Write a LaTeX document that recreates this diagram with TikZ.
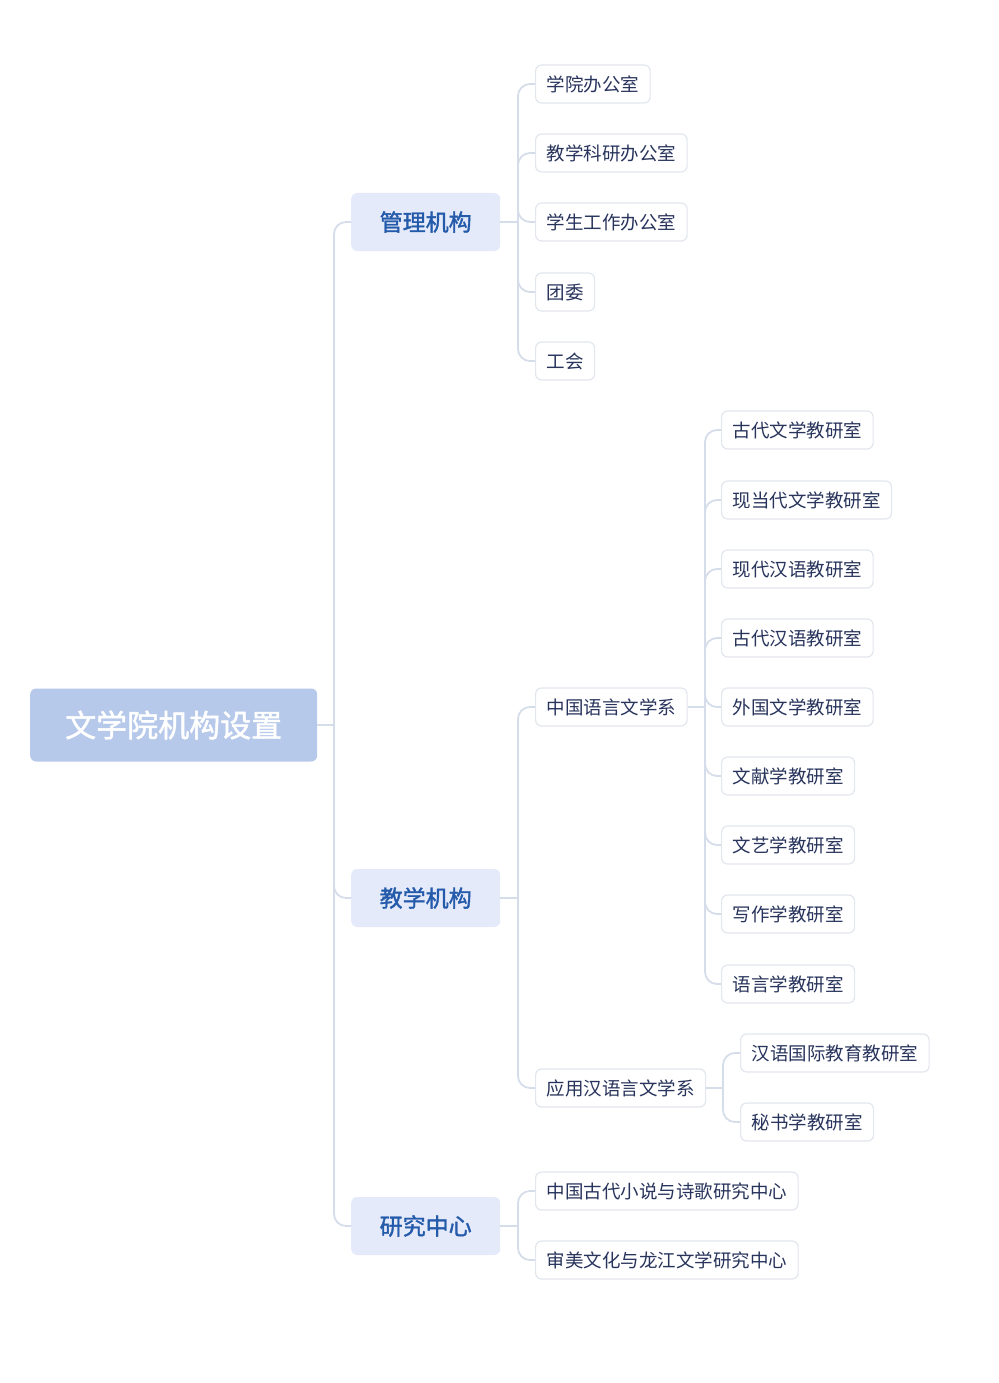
\documentclass[tikz,border=0pt]{standalone}
\usepackage{fontspec}
\setmainfont{Noto Sans CJK SC}
\newfontfamily\medfont{Noto Sans CJK SC}[FakeBold=1.5]
\definecolor{rootfill}{RGB}{182,201,234}
\definecolor{lvfill}{RGB}{228,234,250}
\definecolor{lvtext}{RGB}{36,90,170}
\definecolor{leafline}{RGB}{226,230,238}
\definecolor{leaftext}{RGB}{40,52,92}
\definecolor{conncol}{RGB}{214,221,234}
\tikzset{
  rootbox/.style={draw=none, fill=rootfill, rounded corners=6pt, text=white, font=\medfont\fontsize{31}{34}\selectfont, minimum height=73pt, minimum width=287pt, anchor=west, inner sep=0pt},
  lvbox/.style={draw=none, fill=lvfill, rounded corners=6pt, text=lvtext, font=\medfont\fontsize{23}{26}\selectfont, minimum height=58pt, minimum width=149pt, anchor=west, inner sep=0pt},
  leafbox/.style={draw=leafline, line width=1.2pt, fill=white, rounded corners=6pt, text=leaftext, font=\fontsize{18.5}{20}\selectfont, minimum height=38pt, inner xsep=11pt, anchor=west},
  conn/.style={draw=conncol, line width=1.8pt, rounded corners=12pt}
}
\begin{document}
\begin{tikzpicture}[x=1pt,y=-1pt]
\useasboundingbox (0,0) rectangle (998,1383);
% root and level 1
\node[rootbox] (root) at (30,725) {文学院机构设置};
\node[lvbox] (g) at (351,222) {管理机构};
\node[lvbox] (t) at (351,898) {教学机构};
\node[lvbox] (r) at (351,1226) {研究中心};
% leaves of 管理机构
\node[leafbox] (g1) at (535,84) {学院办公室};
\node[leafbox] (g2) at (535,153) {教学科研办公室};
\node[leafbox] (g3) at (535,222) {学生工作办公室};
\node[leafbox] (g4) at (535,292) {团委};
\node[leafbox] (g5) at (535,361) {工会};
% 教学机构 children
\node[leafbox] (z) at (535,707) {中国语言文学系};
\node[leafbox] (y) at (535,1088) {应用汉语言文学系};
\node[leafbox] (z1) at (721,430) {古代文学教研室};
\node[leafbox] (z2) at (721,500) {现当代文学教研室};
\node[leafbox] (z3) at (721,569) {现代汉语教研室};
\node[leafbox] (z4) at (721,638) {古代汉语教研室};
\node[leafbox] (z5) at (721,707) {外国文学教研室};
\node[leafbox] (z6) at (721,776) {文献学教研室};
\node[leafbox] (z7) at (721,845) {文艺学教研室};
\node[leafbox] (z8) at (721,914) {写作学教研室};
\node[leafbox] (z9) at (721,984) {语言学教研室};
\node[leafbox] (y1) at (740,1053) {汉语国际教育教研室};
\node[leafbox] (y2) at (740,1122) {秘书学教研室};
% 研究中心 children
\node[leafbox] (r1) at (535,1191) {中国古代小说与诗歌研究中心};
\node[leafbox] (r2) at (535,1260) {审美文化与龙江文学研究中心};
% junctions
\coordinate (jr) at (334,725);
\coordinate (jg) at (518,222);
\coordinate (jt) at (518,898);
\coordinate (jrc) at (518,1226);
\coordinate (jz) at (705,707);
\coordinate (jy) at (723,1088);
% connectors
\draw[conn] (root.east) -- (jr);
\foreach \c in {g,t,r} \draw[conn] (jr) |- (\c.west);
\draw[conn] (g.east) -- (jg);
\foreach \c in {g1,g2,g3,g4,g5} \draw[conn] (jg) |- (\c.west);
\draw[conn] (t.east) -- (jt);
\foreach \c in {z,y} \draw[conn] (jt) |- (\c.west);
\draw[conn] (r.east) -- (jrc);
\foreach \c in {r1,r2} \draw[conn] (jrc) |- (\c.west);
\draw[conn] (z.east) -- (jz);
\foreach \c in {z1,z2,z3,z4,z5,z6,z7,z8,z9} \draw[conn] (jz) |- (\c.west);
\draw[conn] (y.east) -- (jy);
\foreach \c in {y1,y2} \draw[conn] (jy) |- (\c.west);
\end{tikzpicture}
\end{document}
